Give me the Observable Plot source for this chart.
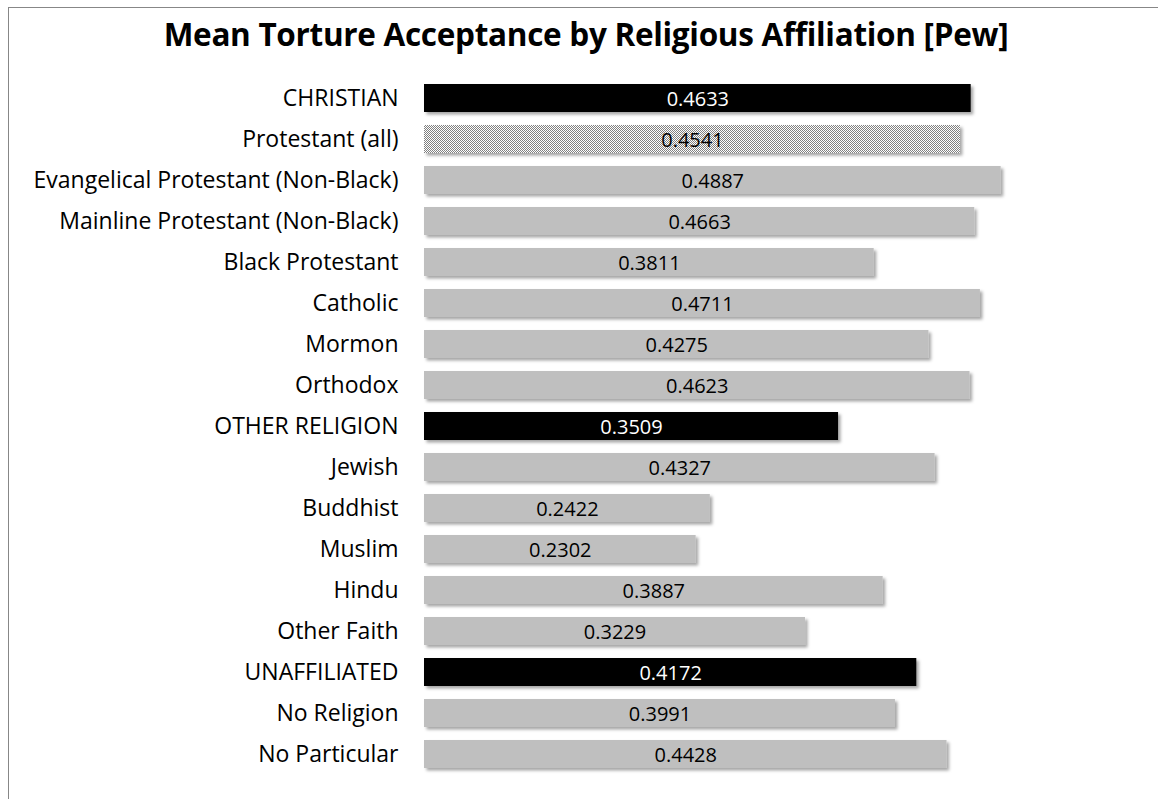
<!DOCTYPE html>
<html>
<head>
<meta charset="utf-8">
<script src="https://cdn.jsdelivr.net/npm/d3@7"></script>
<script src="https://cdn.jsdelivr.net/npm/@observablehq/plot@0.6"></script>
<style>
  html, body { margin: 0; padding: 0; background: #fff; }
  body { width: 1158px; height: 799px; overflow: hidden; position: relative; font-family: "Open Sans", sans-serif; }
  #frame { position: absolute; left: 8px; top: 7px; width: 1200px; height: 850px; border: 1px solid #878787; box-sizing: border-box; }
  #title { position: absolute; left: 7px; top: 12px; width: 1158px; text-align: center; font-weight: bold; font-size: 31.5px; color: #000; letter-spacing: -0.3px; }
  #chart { position: absolute; left: 0; top: 60px; }
</style>
</head>
<body>
<div id="frame"></div>
<div id="title">Mean Torture Acceptance by Religious Affiliation [Pew]</div>
<div id="chart"></div>
<script>
const categories = [
  "CHRISTIAN", "Protestant (all)", "Evangelical Protestant (Non-Black)", "Mainline Protestant (Non-Black)",
  "Black Protestant", "Catholic", "Mormon", "Orthodox", "OTHER RELIGION", "Jewish", "Buddhist",
  "Muslim", "Hindu", "Other Faith", "UNAFFILIATED", "No Religion", "No Particular"
];
const values = [0.4633, 0.4541, 0.4887, 0.4663, 0.3811, 0.4711, 0.4275, 0.4623, 0.3509, 0.4327, 0.2422, 0.2302, 0.3887, 0.3229, 0.4172, 0.3991, 0.4428];
const kinds = ["group", "pattern", "sub", "sub", "sub", "sub", "sub", "sub", "group", "sub", "sub", "sub", "sub", "sub", "group", "sub", "sub"];

const data = categories.map((c, i) => ({name: c, value: values[i], kind: kinds[i]}));
const fillOf = k => k === "group" ? "#000000" : k === "pattern" ? "url(#checker)" : "#bfbfbf";
const textOf = k => k === "group" ? "#ffffff" : "#000000";

const plot = Plot.plot({
  width: 1158,
  height: 739,
  marginLeft: 424,
  marginRight: 0,
  marginTop: 15,
  marginBottom: 23,
  x: {domain: [0, 0.6], range: [424, 1132], axis: null},
  y: {domain: categories, paddingInner: 0.32, paddingOuter: 0.16},
  style: {fontFamily: "Open Sans, sans-serif", fontSize: "23px", color: "#000"},
  marks: [
    Plot.barX(data, {x: "value", y: "name", fill: d => fillOf(d.kind), className: "bars"}),
    Plot.text(data, {x: d => d.value / 2, y: "name", text: d => d.value.toFixed(4), fill: d => textOf(d.kind), fontSize: 20, dy: 1}),
    Plot.axisY({tickSize: 0, tickPadding: 26, fontSize: 23, label: null}),
    Plot.ruleX([0], {stroke: "#888888", strokeWidth: 1.2, y1: categories[0], y2: categories[categories.length - 1], insetTop: -24, insetBottom: -22})
  ]
});

// defs: checker pattern and drop shadow
const svg = d3.select(plot);
const defs = svg.insert("defs", ":first-child");
const pat = defs.append("pattern").attr("id", "checker").attr("patternUnits", "userSpaceOnUse")
  .attr("width", 2).attr("height", 2);
pat.append("rect").attr("width", 2).attr("height", 2).attr("fill", "#ffffff");
pat.append("rect").attr("width", 1).attr("height", 1).attr("fill", "#808080");
pat.append("rect").attr("x", 1).attr("y", 1).attr("width", 1).attr("height", 1).attr("fill", "#808080");
const f = defs.append("filter").attr("id", "shadow").attr("x", "-5%").attr("y", "-30%").attr("width", "110%").attr("height", "170%");
f.append("feDropShadow").attr("dx", 2.5).attr("dy", 2.5).attr("stdDeviation", 1.6).attr("flood-color", "#000").attr("flood-opacity", 0.35);
svg.selectAll("g.bars rect").attr("filter", "url(#shadow)");

document.getElementById("chart").appendChild(plot);
</script>
</body>
</html>
